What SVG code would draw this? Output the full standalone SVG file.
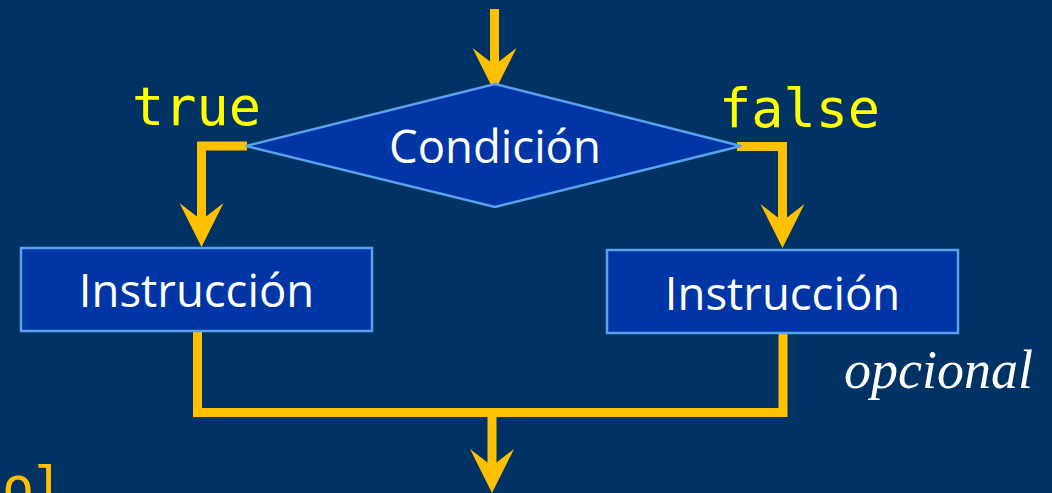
<svg xmlns="http://www.w3.org/2000/svg" width="1052" height="493" viewBox="0 0 1052 493">
<style>
.bg{fill:#003263}
.shape{fill:#0035A6;stroke:#5AA2EC;stroke-width:2.5}
.lbl{font-family:"Open Sans","Noto Sans",sans-serif;font-size:45.5px;fill:#FFFFFF;text-anchor:middle}
.code{font-family:"DejaVu Sans Mono","Liberation Mono",monospace;font-size:53.5px;fill:#FFFF00}
.conn{fill:none;stroke:#FFC000;stroke-width:9;stroke-linejoin:miter}
.opt{font-family:"Liberation Serif","DejaVu Serif",serif;font-style:italic;font-size:54px;fill:#FFFFFF}
.tail{fill:#FFC000}
</style>
<defs>
<marker id="ah" markerUnits="userSpaceOnUse" viewBox="-26 -24 48 48" markerWidth="48" markerHeight="48" refX="0" refY="0" orient="auto">
<path d="M20,0 L-24,-22 L-7,0 L-24,22 Z" fill="#FFC000"/>
</marker>
</defs>
<rect class="bg" x="0" y="0" width="1052" height="493"/>
<g id="connectors">
<polyline class="conn" points="494.5,9 494.5,72" marker-end="url(#ah)"/>
<polyline class="conn" points="247,146 201.5,146 201.5,227" marker-end="url(#ah)"/>
<polyline class="conn" points="737,146.5 782.5,146.5 782.5,228" marker-end="url(#ah)"/>
<polyline class="conn" points="197.5,332 197.5,412.5 783,412.5 783,333"/>
<polyline class="conn" points="492,412.5 492,473" marker-end="url(#ah)"/>
</g>
<g id="condicion">
<polygon class="shape" points="495,84 741,146 495,207 246,146"/>
<text class="lbl" x="495" y="163">Condición</text>
</g>
<g id="instr-true">
<rect class="shape" x="21" y="248" width="351" height="83"/>
<text class="lbl" x="196.5" y="307">Instrucción</text>
</g>
<g id="instr-false">
<rect class="shape" x="607" y="250" width="351" height="83"/>
<text class="lbl" x="782.5" y="310">Instrucción</text>
</g>
<g id="labels">
<text class="code" x="132" y="125">true</text>
<text class="code" x="719" y="127">false</text>
<text class="opt" x="844" y="388">opcional</text>
<text class="code tail" x="2" y="505">ol</text>
</g>
</svg>
